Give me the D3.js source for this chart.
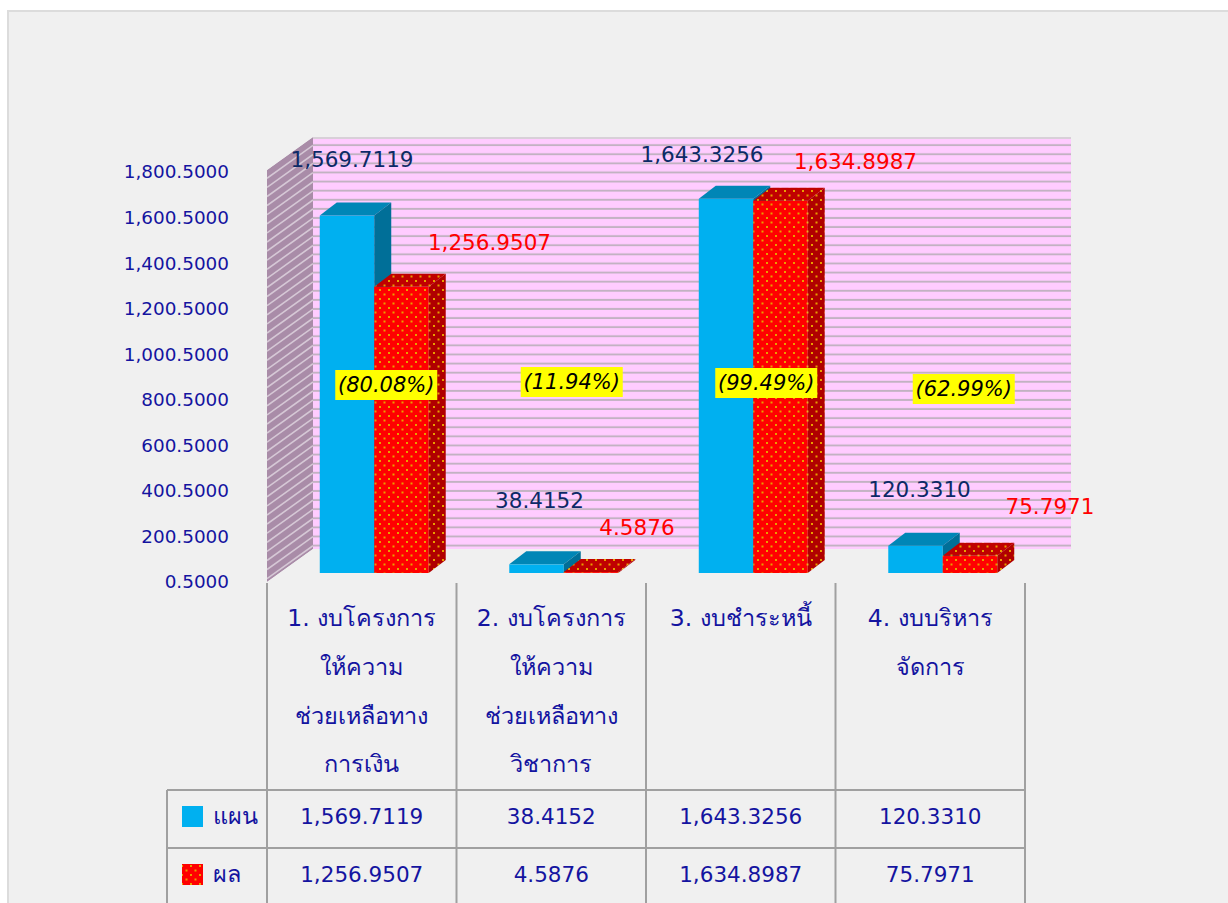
<!DOCTYPE html>
<html>
<head>
<meta charset="utf-8">
<script src="https://cdn.jsdelivr.net/npm/d3@7"></script>
<style>
  body { margin: 0; background: #fff; }
  svg { display: block; font-family: "DejaVu Sans", Tahoma, sans-serif; }
</style>
</head>
<body>
<svg width="1228" height="903"></svg>
<script>
// data
const categories = [
    ["1. งบโครงการ", "ให้ความ", "ช่วยเหลือทาง", "การเงิน"],
    ["2. งบโครงการ", "ให้ความ", "ช่วยเหลือทาง", "วิชาการ"],
    ["3. งบชำระหนี้"],
    ["4. งบบริหาร", "จัดการ"]
];
const seriesNames = ["แผน", "ผล"];
const planValues = [1569.7119, 38.4152, 1643.3256, 120.3310];
const actualValues = [1256.9507, 4.5876, 1634.8987, 75.7971];
const percentLabels = ["(80.08%)", "(11.94%)", "(99.49%)", "(62.99%)"];
const yTicks = [0.5, 200.5, 400.5, 600.5, 800.5, 1000.5, 1200.5, 1400.5, 1600.5, 1800.5];

// hand-placed label nudges (as in the original chart)
const planLabelNudge = [[5, -56], [3, -64], [-24, -44], [4, -56]];
const actualLabelNudge = [[88, -44], [46, -45], [75, -39], [80, -49]];
const pctNudge = [[12, 385], [8, 382], [13, 383], [21, 389]];

const svg = d3.select("svg");
const fmt = d3.format(",.4f");
const textBlue = "#1414a0";
const labelNavy = "#0c2a66";

// background panel
svg.append("rect")
    .attr("x", 8).attr("y", 11)
    .attr("width", 1240).attr("height", 900)
    .attr("fill", "#f0f0f0")
    .attr("stroke", "#dcdcdc")
    .attr("stroke-width", 2);

const left = 267, right = 1025;
const wallDx = 46, wallDy = -33;
const barOff = [12.5, -9];     // bar front face depth offset
const barDepth = [17, -13];    // bar thickness

const y = d3.scaleLinear().domain([0.5, 1800.5]).range([582, 172]);
const x = d3.scaleBand().domain(d3.range(categories.length)).range([left, right]);
const groupW = x.bandwidth() * 0.575;
const xs = d3.scaleBand().domain(seriesNames).range([0, groupW]);

// patterns
const defs = svg.append("defs");
function dotPattern(id, base) {
    const p = defs.append("pattern")
        .attr("id", id)
        .attr("patternUnits", "userSpaceOnUse")
        .attr("width", 9).attr("height", 9);
    p.append("rect").attr("width", 9).attr("height", 9).attr("fill", base);
    p.append("rect").attr("x", 1).attr("y", 1).attr("width", 2).attr("height", 2).attr("fill", "#e8a000");
    p.append("rect").attr("x", 5.5).attr("y", 5.5).attr("width", 2).attr("height", 2).attr("fill", "#e8a000");
}
dotPattern("redFront", "#ff0000");
dotPattern("redTop", "#c00000");
dotPattern("redSide", "#b00000");

const stripe = defs.append("pattern")
    .attr("id", "wallStripe")
    .attr("patternUnits", "userSpaceOnUse")
    .attr("y", 137)
    .attr("width", 10).attr("height", 9.1);
stripe.append("rect").attr("width", 10).attr("height", 9.1).attr("fill", "#ffccff");
stripe.append("rect").attr("y", 7.2).attr("width", 10).attr("height", 2).attr("fill", "#c2b2c2");

// back wall
const wallTop = y(1800.5) + wallDy - 2;
const wallBottom = y(0.5) + wallDy;
svg.append("rect")
    .attr("x", left + wallDx).attr("y", wallTop)
    .attr("width", 1071 - (left + wallDx)).attr("height", wallBottom - wallTop)
    .attr("fill", "url(#wallStripe)");
svg.append("line")
    .attr("x1", left + wallDx).attr("x2", 1071)
    .attr("y1", wallTop + 1).attr("y2", wallTop + 1)
    .attr("stroke", "#d8d0d8").attr("stroke-width", 2);

// side wall
const sidePts = [[left, y(1800.5) - 2], [left + wallDx, wallTop], [left + wallDx, wallBottom], [left, y(0.5)]];
defs.append("clipPath").attr("id", "sideClip")
    .append("polygon").attr("points", sidePts.map(p => p.join(",")).join(" "));
const side = svg.append("g").attr("clip-path", "url(#sideClip)");
side.append("polygon")
    .attr("points", sidePts.map(p => p.join(",")).join(" "))
    .attr("fill", "#a98ca8");
side.selectAll("line")
    .data(d3.range(0, 50))
    .enter().append("line")
    .attr("x1", left).attr("x2", left + wallDx)
    .attr("y1", k => wallTop + 8.3 + k * 9.1 - wallDy)
    .attr("y2", k => wallTop + 8.3 + k * 9.1)
    .attr("stroke", "#d6c8d6")
    .attr("stroke-width", 1.6);

// y axis labels
svg.append("g").selectAll("text")
    .data(yTicks)
    .enter().append("text")
    .attr("x", 229)
    .attr("y", d => y(d))
    .attr("dy", "0.35em")
    .attr("text-anchor", "end")
    .attr("font-size", 18.4)
    .attr("fill", textBlue)
    .text(d => fmt(d));

// bars
const colors = {
    "แผน": { front: "#00b0f0", top: "#0086b6", side: "#006f98" },
    "ผล": { front: "url(#redFront)", top: "url(#redTop)", side: "url(#redSide)" }
};
const bars = [];
categories.forEach((c, i) => {
    const gx = x(i) + (x.bandwidth() - groupW) / 2 + barOff[0];
    [planValues[i], actualValues[i]].forEach((v, j) => {
        bars.push({ i, s: seriesNames[j], v, x0: gx + xs(seriesNames[j]) });
    });
});
const base = y(0.5) + barOff[1];
const bw = xs.bandwidth();
const [ddx, ddy] = barDepth;
const barG = svg.append("g");
bars.forEach(b => {
    const top = y(b.v) + barOff[1];
    const c = colors[b.s];
    barG.append("rect")
        .attr("x", b.x0).attr("y", top)
        .attr("width", bw).attr("height", base - top)
        .attr("fill", c.front);
    barG.append("polygon")
        .attr("points", [[b.x0, top], [b.x0 + ddx, top + ddy], [b.x0 + bw + ddx, top + ddy], [b.x0 + bw, top]].map(p => p.join(",")).join(" "))
        .attr("fill", c.top);
    barG.append("polygon")
        .attr("points", [[b.x0 + bw, top], [b.x0 + bw + ddx, top + ddy], [b.x0 + bw + ddx, base + ddy], [b.x0 + bw, base]].map(p => p.join(",")).join(" "))
        .attr("fill", c.side);
});

// value labels
bars.forEach(b => {
    const top = y(b.v) + barOff[1];
    const nudge = b.s === seriesNames[0] ? planLabelNudge[b.i] : actualLabelNudge[b.i];
    svg.append("text")
        .attr("x", b.x0 + bw / 2 + nudge[0])
        .attr("y", top + nudge[1])
        .attr("dy", "0.35em")
        .attr("text-anchor", "middle")
        .attr("font-size", 21.5)
        .attr("fill", b.s === seriesNames[0] ? labelNavy : "#ff0000")
        .text(fmt(b.v));
});

// percentage boxes
percentLabels.forEach((p, i) => {
    const cx = x(i) + x.bandwidth() / 2 + barOff[0] + pctNudge[i][0];
    const cy = pctNudge[i][1];
    svg.append("rect")
        .attr("x", cx - 51).attr("y", cy - 15)
        .attr("width", 102).attr("height", 30)
        .attr("fill", "#ffff00");
    svg.append("text")
        .attr("x", cx).attr("y", cy)
        .attr("dy", "0.35em")
        .attr("text-anchor", "middle")
        .attr("font-size", 21)
        .attr("font-style", "italic")
        .attr("fill", "#000")
        .text(p);
});

// data table
const tbl = svg.append("g").attr("stroke", "#a0a0a0").attr("stroke-width", 2);
const rowTop = 790, rowH = 58;
x.domain().concat([categories.length]).forEach(i => {
    const xx = i < categories.length ? x(i) : right;
    tbl.append("line").attr("x1", xx).attr("x2", xx).attr("y1", 583).attr("y2", 910);
});
tbl.append("line").attr("x1", 167).attr("x2", 167).attr("y1", rowTop).attr("y2", 910);
[rowTop, rowTop + rowH].forEach(yy => {
    tbl.append("line").attr("x1", 167).attr("x2", right).attr("y1", yy).attr("y2", yy);
});

// category labels
categories.forEach((lines, i) => {
    svg.append("g").selectAll("text")
        .data(lines)
        .enter().append("text")
        .attr("x", x(i) + x.bandwidth() / 2)
        .attr("y", (d, k) => 618 + k * 48.7)
        .attr("dy", "0.35em")
        .attr("text-anchor", "middle")
        .attr("font-size", 23.5)
        .attr("fill", textBlue)
        .text(d => d);
});

// table rows
[planValues, actualValues].forEach((vals, r) => {
    const cy = rowTop + rowH * r + rowH / 2 - 3;
    svg.append("rect")
        .attr("x", 182).attr("y", cy - 10)
        .attr("width", 21).attr("height", 21)
        .attr("fill", r === 0 ? "#00b0f0" : "url(#redFront)");
    svg.append("text")
        .attr("x", 213).attr("y", cy)
        .attr("dy", "0.35em")
        .attr("font-size", 23.5)
        .attr("fill", textBlue)
        .text(seriesNames[r]);
    svg.append("g").selectAll("text")
        .data(vals)
        .enter().append("text")
        .attr("x", (d, i) => x(i) + x.bandwidth() / 2)
        .attr("y", cy)
        .attr("dy", "0.35em")
        .attr("text-anchor", "middle")
        .attr("font-size", 21.5)
        .attr("fill", textBlue)
        .text(d => fmt(d));
});
</script>
</body>
</html>
